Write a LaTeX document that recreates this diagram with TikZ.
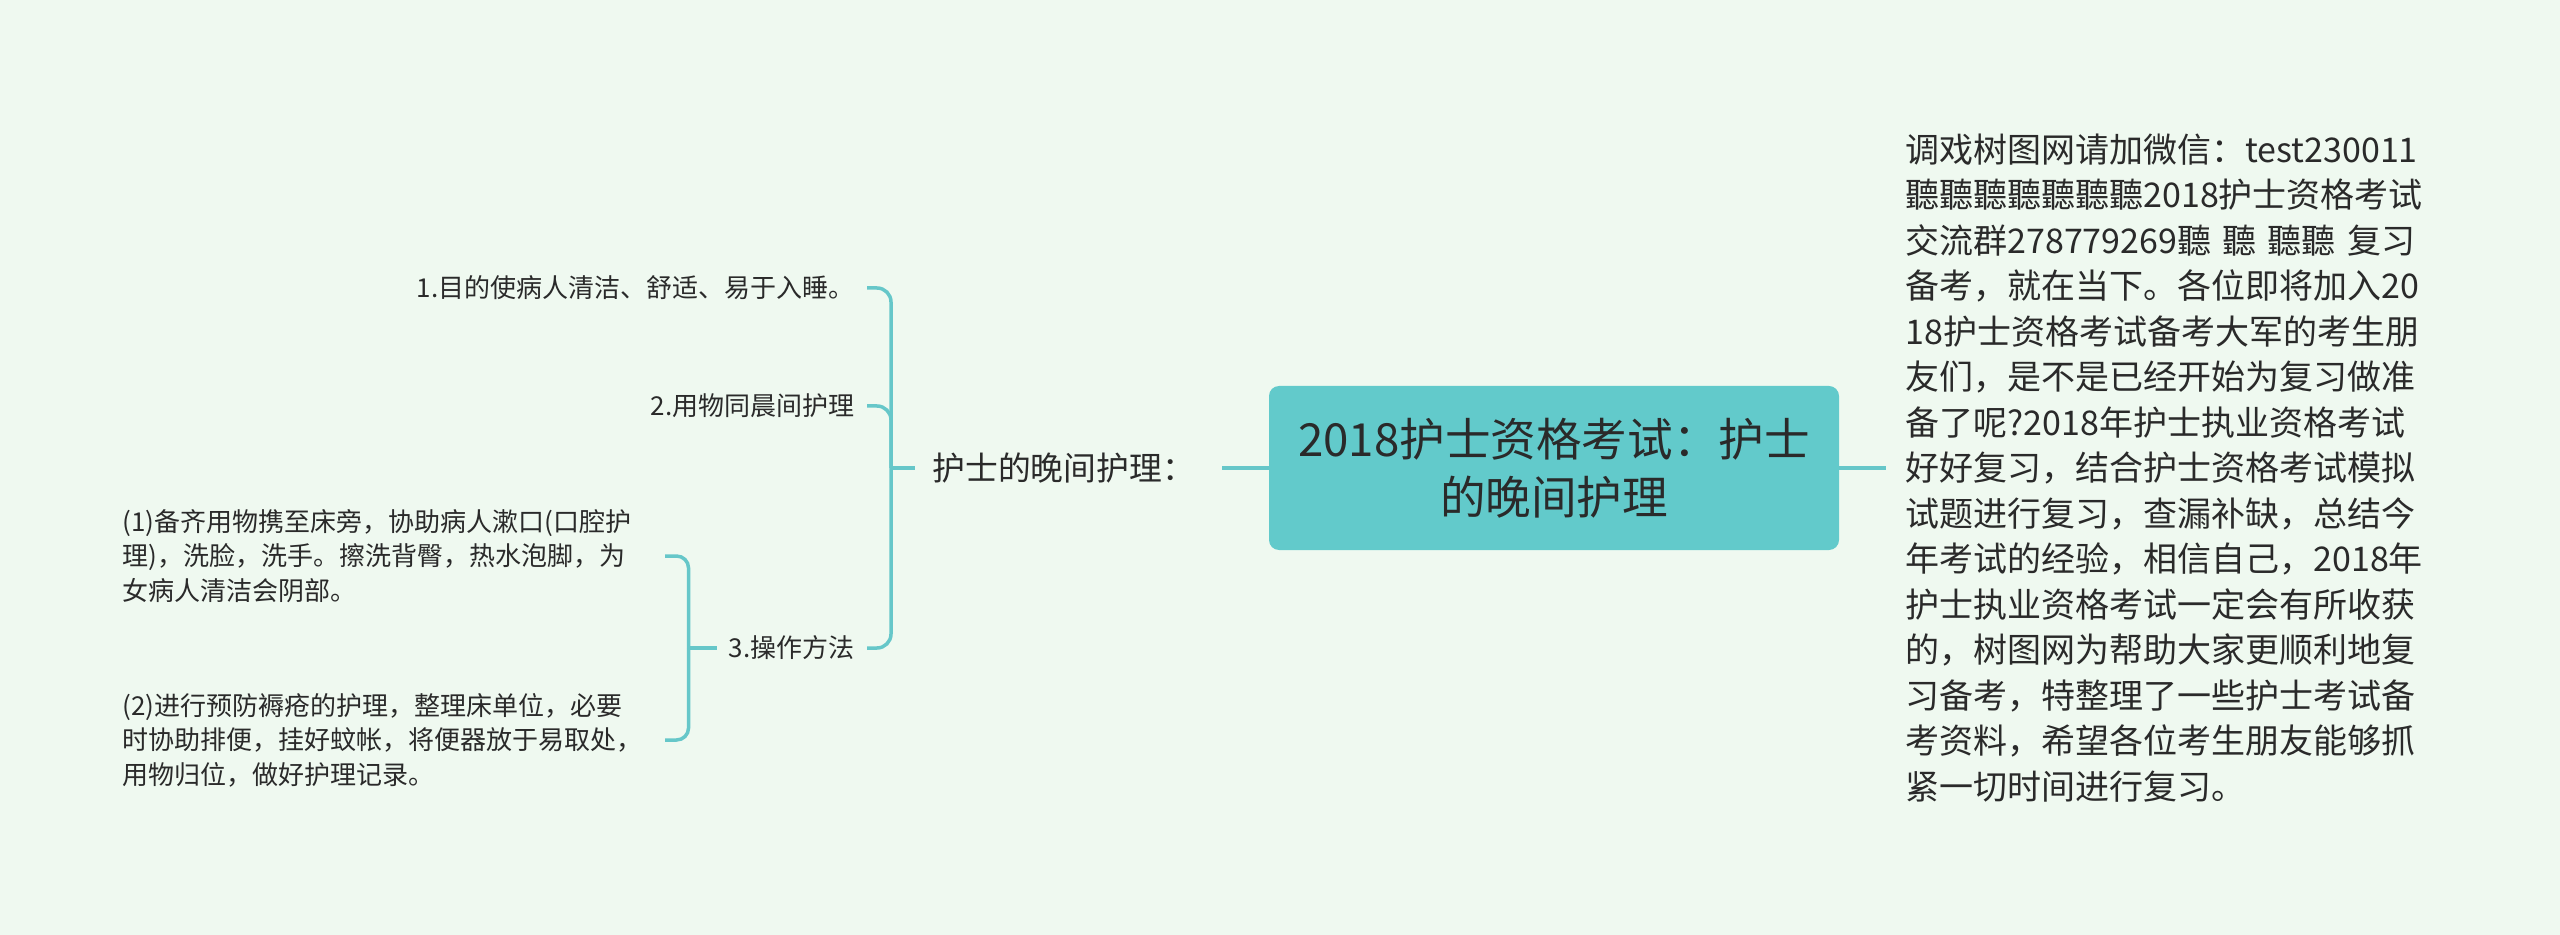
\documentclass[tikz,border=0pt]{standalone}
\usepackage{fontspec}
\setmainfont{Noto Sans CJK SC}
\usetikzlibrary{calc}
\definecolor{bgc}{HTML}{EFF9F0}
\definecolor{linec}{HTML}{66C7C9}
\definecolor{rootc}{HTML}{62CACB}
\definecolor{txtc}{HTML}{2A2A2A}
\tikzset{
  conn/.style={draw=linec, line width=1.75pt},
  rootbox/.style={fill=rootc, rounded corners=5pt, minimum width=285pt, minimum height=82pt,
    align=center, inner sep=0pt, text=txtc, font=\fontsize{22.8}{29}\selectfont},
  lvlone/.style={inner xsep=8.5pt, inner ysep=0pt, text width=136pt, align=left, text=txtc,
    font=\fontsize{16.4}{20}\selectfont},
  lvltwo/.style={inner xsep=6pt, inner ysep=0pt, text=txtc, font=\fontsize{13}{17}\selectfont},
  lvlthree/.style={inner xsep=6pt, inner ysep=0pt, text width=265pt, align=left, text=txtc,
    font=\fontsize{13}{17.25}\selectfont},
  sidetext/.style={inner xsep=9.5pt, inner ysep=0pt, text width=262pt, align=left, text=txtc,
    font=\fontsize{17}{22.75}\selectfont},
}
\begin{document}
\begin{tikzpicture}[x=0.5pt,y=-0.5pt]
\fill[bgc] (0,0) rectangle (2560,935);
\useasboundingbox (0,0) rectangle (2560,935);

% root
\node[rootbox] (root) at (1554,468) {2018护士资格考试：护士\\的晚间护理};

% level one
\node[lvlone, anchor=west] (l1) at (915,468) {护士的晚间护理：};
\draw[conn] (root.west) -- (l1.east);
\coordinate (s1) at ($(l1.west)+(-12pt,0)$);
\draw[conn] (s1) -- (l1.west);

% level two
\node[lvltwo, anchor=east] (c1) at (867,288) {1.目的使病人清洁、舒适、易于入睡。};
\node[lvltwo, anchor=east] (c2) at (867,406) {2.用物同晨间护理};
\node[lvltwo, anchor=east] (c3) at (867,648) {3.操作方法};
\draw[conn, rounded corners=7pt] (c1.east) -| (s1);
\draw[conn, rounded corners=7pt] (c2.east) -| (s1);
\draw[conn, rounded corners=7pt] (c3.east) -| (s1);

% level three
\coordinate (s2) at ($(c3.west)+(-14pt,0)$);
\draw[conn] (s2) -- (c3.west);
\node[lvlthree, anchor=east] (t1) at (665,556) {(1)备齐用物携至床旁，协助病人漱口(口腔护\\理)，洗脸，洗手。擦洗背臀，热水泡脚，为\\女病人清洁会阴部。};
\node[lvlthree, anchor=east] (t2) at (665,740) {(2)进行预防褥疮的护理，整理床单位，必要\\时协助排便，挂好蚊帐，将便器放于易取处，\\用物归位，做好护理记录。};
\draw[conn, rounded corners=6pt] (t1.east) -| (s2);
\draw[conn, rounded corners=6pt] (t2.east) -| (s2);

% side text
\node[sidetext, anchor=west] (side) at (1886,468) {调戏树图网请加微信：test230011\\聽聽聽聽聽聽聽2018护士资格考试\\交流群278779269聽 聽 聽聽 复习\\备考，就在当下。各位即将加入20\\18护士资格考试备考大军的考生朋\\友们，是不是已经开始为复习做准\\备了呢?2018年护士执业资格考试\\好好复习，结合护士资格考试模拟\\试题进行复习，查漏补缺，总结今\\年考试的经验，相信自己，2018年\\护士执业资格考试一定会有所收获\\的，树图网为帮助大家更顺利地复\\习备考，特整理了一些护士考试备\\考资料，希望各位考生朋友能够抓\\紧一切时间进行复习。};
\draw[conn] (root.east) -- (side.west);
\end{tikzpicture}
\end{document}
